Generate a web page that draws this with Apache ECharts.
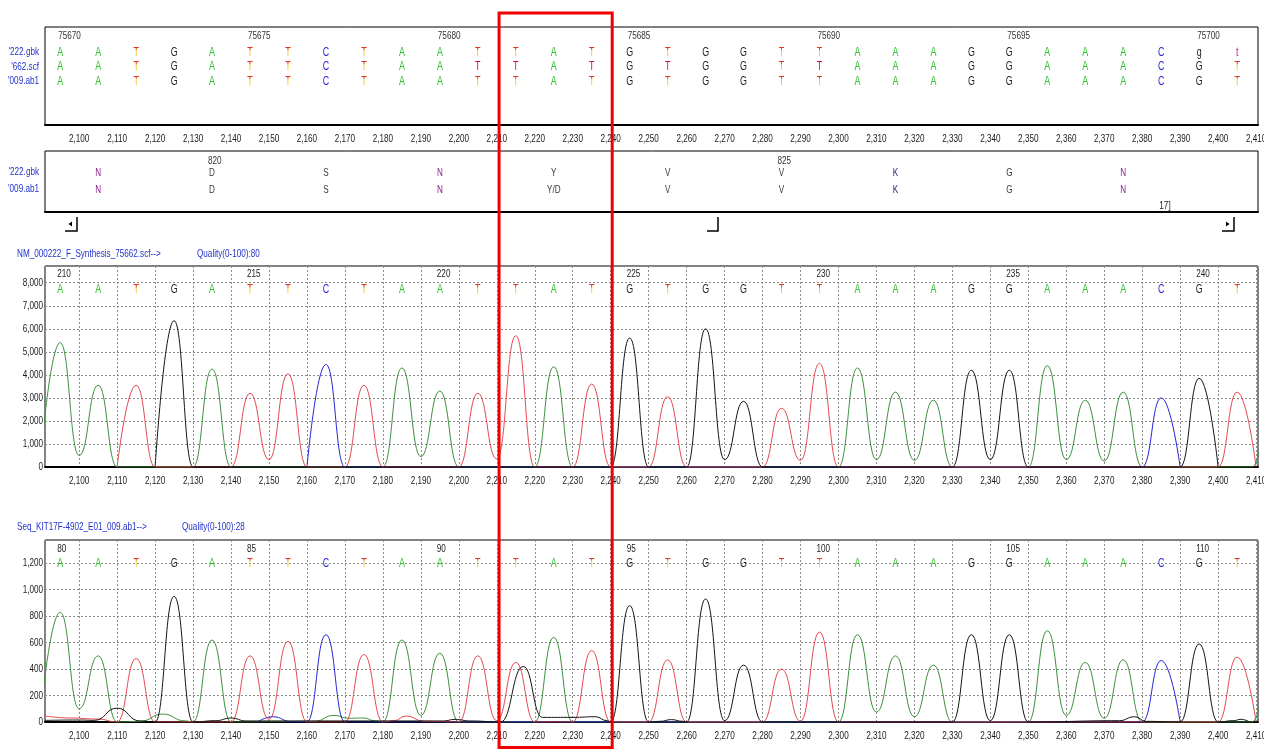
<!DOCTYPE html>
<html>
<head>
<meta charset="utf-8">
<title>chromatogram</title>
<script src="https://cdn.jsdelivr.net/npm/echarts@6/dist/echarts.min.js"></script>
<style>
  html, body { margin: 0; padding: 0; background: #fff; }
  #main { width: 1264px; height: 749px; }
</style>
</head>
<body>
<div id="main"></div>
<script>
// scan positions of the called bases, and the calls
const basePos = [2095, 2105, 2115, 2125, 2135, 2145, 2155, 2165, 2175, 2185, 2195, 2205, 2215, 2225, 2235, 2245,
  2255, 2265, 2275, 2285, 2295, 2305, 2315, 2325, 2335, 2345, 2355, 2365, 2375, 2385, 2395, 2405];
const calls = ['A','A','T','G','A','T','T','C','T','A','A','T','T','A','T','G','T','G','G','T','T','A','A','A','G','G','A','A','A','C','G','T'];
const seqRef = ['A','A','T','G','A','T','T','C','T','A','A','T','T','A','T','G','T','G','G','T','T','A','A','A','G','G','A','A','A','C','g','t'];
const scfMarked = [11, 12, 14, 16, 20];

const refNums = [75670, 75675, 75680, 75685, 75690, 75695, 75700];
const trace1Nums = [210, 215, 220, 225, 230, 235, 240];
const trace2Nums = [80, 85, 90, 95, 100, 105, 110];

// translation
const codonPos = [2105, 2135, 2165, 2195, 2225, 2255, 2285, 2315, 2345, 2375];
const aaRef = ['N','D','S','N','Y','V','V','K','G','N'];
const aaSample = ['N','D','S','N','Y/D','V','V','K','G','N'];
const aaNums = [[1, '820'], [6, '825']];

// tick labels
const xTicks = [2100, 2110, 2120, 2130, 2140, 2150, 2160, 2170, 2180, 2190, 2200, 2210, 2220, 2230, 2240, 2250,
  2260, 2270, 2280, 2290, 2300, 2310, 2320, 2330, 2340, 2350, 2360, 2370, 2380, 2390, 2400, 2410];
const yTicks1 = [0, 1000, 2000, 3000, 4000, 5000, 6000, 7000, 8000];
const yTicks2 = [0, 200, 400, 600, 800, 1000, 1200];

// trace 1 (scf) peak heights and valleys between neighbouring peaks of the same base
const peaks1 = [5400, 3550, 3550, 6350, 4250, 3200, 4050, 4450, 3550, 4300, 3300, 3200, 5700, 4350, 3600, 5600,
  3050, 6000, 2850, 2550, 4500, 4300, 3250, 2900, 4200, 4200, 4400, 2900, 3250, 3000, 3850, 3250];
const dips1 = [500,0,0,0,0,320,0,0,0,450,0,350,0,0,0,0,0,320,0,290,0,320,290,0,320,0,320,260,0,0,0];
const extra1 = {
  A: [[2090, 650], [2409, 0], [2414, 4500]],
  C: [], T: [], G: []
};

// trace 2 (ab1)
const peaks2 = [830, 500, 480, 950, 620, 500, 610, 660, 510, 620, 520, 500, 450, 640, 540, 880,
  470, 930, 430, 400, 680, 660, 500, 430, 660, 660, 690, 450, 470, 465, 590, 490];
const dips2 = [100,0,0,0,0,20,0,0,0,50,0,10,0,0,0,0,0,10,0,5,0,75,40,0,10,0,50,28,0,0,0];
const extra2 = {
  A: [[2090, 100], [2116, 5], [2122, 60], [2128, 8], [2162, 5], [2167, 50], [2171, 28], [2175, 30], [2178, 8],
      [2409, 0], [2414, 700]],
  C: [[2147, 0], [2151, 40], [2156, 2]],
  T: [[2091, 45], [2098, 30], [2105, 22], [2183, 10], [2186, 45], [2191, 5]],
  G: [[2091, 12], [2100, 15], [2104, 12], [2110, 105], [2116, 8], [2136, 10], [2140, 30], [2144, 8],
      [2196, 8], [2199, 20], [2203, 8], [2211, 0], [2217, 420], [2222, 35], [2230, 35], [2236, 40], [2239, 10],
      [2253, 5], [2256, 18], [2259, 5], [2374, 10], [2378, 40], [2381, 5], [2404, 10], [2406, 20], [2408, 5]]
};

const boxRange = [2210.6, 2240.4];

const FAMILY = '"Liberation Sans", Arial, sans-serif';
const SQUEEZE = 0.74;
const traceColor = { A: '#3d8f3d', C: '#2424d8', G: '#141414', T: '#e5484f' };
const X_MIN = 2091, X_MAX = 2410.5;

const comma = v => String(v).replace(/\B(?=(\d{3})+(?!\d))/g, ',');

function letterColor(b, marked) {
  if (b === 'A') return '#2fbf2f';
  if (b === 'C') return '#2b2bd6';
  if (b === 'G' || b === 'g') return '#1e1e1e';
  if (b === 't') return '#c0208a';
  return marked ? '#c8123a' : 'T2';
}

function channelPoints(peaks, dips, ch, extra) {
  const m = new Map();
  calls.forEach((b, i) => {
    if (b !== ch) return;
    const x = basePos[i];
    if (!(i > 0 && calls[i - 1] === ch)) m.set(x - 5, 0);
    m.set(x, peaks[i]);
    m.set(x + 5, (i < calls.length - 1 && calls[i + 1] === ch) ? dips[i] : 0);
  });
  (extra || []).forEach(p => m.set(p[0], p[1]));
  return Array.from(m.entries()).sort((a, b) => a[0] - b[0]);
}

// text drawn at data positions, squeezed horizontally like the original narrow font
function textLayer(xi, yi, items) {
  return {
    type: 'custom', xAxisIndex: xi, yAxisIndex: yi, silent: true, clip: false, z: 5,
    data: items.map(it => [it.x, it.y]),
    renderItem: function (params, api) {
      const it = items[params.dataIndex];
      const p = api.coord([api.value(0), api.value(1)]);
      const base = { text: it.t, font: it.font, align: it.align || 'center', verticalAlign: 'middle' };
      const px = p[0] + (it.dx || 0), py = p[1] + (it.dy || 0);
      if (it.c === 'T2') {
        return {
          type: 'group', x: px, y: py, scaleX: SQUEEZE, children: [
            { type: 'text', style: Object.assign({ fill: '#f1c82a' }, base) },
            { type: 'text', style: Object.assign({ fill: '#e4332b' }, base),
              clipPath: { type: 'rect', shape: { x: -10, y: -10, width: 20, height: 7.3 } } }
          ]
        };
      }
      return { type: 'text', x: px, y: py, scaleX: SQUEEZE, style: Object.assign({ fill: it.c }, base) };
    }
  };
}

const LETTER_FONT = '12px ' + FAMILY;
const SMALL_FONT = '11px ' + FAMILY;

// top sequence panel
const seqItems = [];
basePos.forEach((x, i) => {
  seqItems.push({ x, y: 1, t: seqRef[i], c: letterColor(seqRef[i], false), font: LETTER_FONT });
  seqItems.push({ x, y: 2, t: calls[i], c: letterColor(calls[i], scfMarked.indexOf(i) >= 0), font: LETTER_FONT });
  seqItems.push({ x, y: 3, t: calls[i], c: letterColor(calls[i], false), font: LETTER_FONT });
});
refNums.forEach((n, k) => seqItems.push({ x: basePos[k * 5], y: -0.17, t: String(n), c: '#333', font: SMALL_FONT, align: 'left', dx: -2 }));

// translation panel
const aaColor = a => (a === 'N' ? '#8a1f8f' : (a === 'K' ? '#1f2a80' : '#3a3a3a'));
const aaItems = [];
codonPos.forEach((x, i) => {
  aaItems.push({ x, y: 22, t: aaRef[i], c: aaColor(aaRef[i]), font: SMALL_FONT });
  aaItems.push({ x, y: 39, t: aaSample[i], c: aaColor(aaSample[i]), font: SMALL_FONT });
});
aaNums.forEach(a => aaItems.push({ x: codonPos[a[0]], y: 10, t: a[1], c: '#333', font: SMALL_FONT, align: 'left', dx: -4 }));
aaItems.push({ x: 2386, y: 55, t: '17]', c: '#222', font: SMALL_FONT });

// chromatogram call rows
function callItems(yLetter, yNum, nums) {
  const out = basePos.map((x, i) => ({ x, y: yLetter, t: calls[i], c: letterColor(calls[i], false), font: LETTER_FONT }));
  nums.forEach((n, k) => out.push({ x: basePos[k * 5], y: yNum, t: String(n), c: '#222', font: SMALL_FONT, align: 'left', dx: -3 }));
  return out;
}

function xLabelItems(yBottom) {
  return xTicks.map(v => ({ x: v, y: yBottom, dy: 14, t: comma(v), c: '#1a1a1a', font: SMALL_FONT }));
}
function yLabelItems(ticks) {
  return ticks.map(v => ({ x: X_MIN, y: v, dx: -2, t: comma(v), c: '#1a1a1a', font: SMALL_FONT, align: 'right' }));
}

function xAxisFor(gridIndex, split) {
  return {
    type: 'value', gridIndex, min: X_MIN, max: X_MAX, minInterval: 10, maxInterval: 10, splitNumber: 32,
    axisLine: { show: true, onZero: false, lineStyle: { color: '#000', width: 2 } },
    axisTick: { show: false },
    axisLabel: { show: false },
    splitLine: { show: split, lineStyle: { color: '#8c8c8c', type: [2, 2], width: 1 } }
  };
}

function yAxisTrace(gridIndex, max, step) {
  return {
    type: 'value', gridIndex, min: 0, max, interval: step,
    axisLine: { show: false }, axisTick: { show: false }, axisLabel: { show: false },
    splitLine: { show: true, lineStyle: { color: '#8c8c8c', type: [2, 2], width: 1 } }
  };
}

function traceSeries(gi, peaks, dips, extra) {
  return ['A', 'C', 'T', 'G'].map(ch => ({
    type: 'line', xAxisIndex: gi, yAxisIndex: gi, silent: true,
    data: channelPoints(peaks, dips, ch, extra[ch]),
    smooth: 0.5, smoothMonotone: 'x', showSymbol: false, symbol: 'none',
    lineStyle: { color: traceColor[ch], width: 1 }, z: 3
  }));
}

const frame = { show: true, borderColor: '#000', borderWidth: 1, backgroundColor: 'transparent',
  containLabel: false, outerBoundsMode: 'none' };

function labelText(x, y, text, color, align) {
  return { type: 'text', x, y, scaleX: SQUEEZE, silent: true,
    style: { text, fill: color, font: '11px ' + FAMILY, align: align || 'left', verticalAlign: 'middle',
      textAlign: align || 'left', textVerticalAlign: 'middle' } };
}

function cornerMark(x0, x1, y0, y1) {
  return { type: 'polyline', silent: true, shape: { points: [[x0, y1], [x1, y1], [x1, y0]] },
    style: { stroke: '#000', lineWidth: 1.5, fill: null } };
}

function buildGraphic(bx0, bx1) {
  const blue = '#2233cc';
  return [
    labelText(39, 52, "'222.gbk", blue, 'right'),
    labelText(39, 67, "'662.scf", blue, 'right'),
    labelText(39, 81, "'009.ab1", blue, 'right'),
    labelText(39, 172, "'222.gbk", blue, 'right'),
    labelText(39, 189, "'009.ab1", blue, 'right'),
    labelText(17, 254, 'NM_000222_F_Synthesis_75662.scf-->', blue),
    labelText(197, 254, 'Quality(0-100):80', blue),
    labelText(17, 527, 'Seq_KIT17F-4902_E01_009.ab1-->', blue),
    labelText(182, 527, 'Quality(0-100):28', blue),
    cornerMark(65, 77, 217, 231),
    { type: 'polygon', silent: true, shape: { points: [[68.5, 224], [72, 221.5], [72, 226.5]] }, style: { fill: '#000' } },
    cornerMark(707, 718, 217, 231),
    cornerMark(1222, 1234, 217, 231),
    { type: 'polygon', silent: true, shape: { points: [[1229.5, 224], [1226, 221.5], [1226, 226.5]] }, style: { fill: '#000' } },
    { type: 'rect', silent: true, z: 100, shape: { x: bx0, y: 13, width: bx1 - bx0, height: 734.5 },
      style: { fill: null, stroke: '#f00000', lineWidth: 3 } }
  ];
}

const option = {
  animation: false,
  backgroundColor: '#fff',
  grid: [
    Object.assign({ left: 45, right: 6, top: 27, height: 98 }, frame),
    Object.assign({ left: 45, right: 6, top: 151, height: 61 }, frame),
    Object.assign({ left: 45, right: 6, top: 266, height: 201 }, frame),
    Object.assign({ left: 45, right: 6, top: 540, height: 182 }, frame)
  ],
  xAxis: [xAxisFor(0, false), xAxisFor(1, false), xAxisFor(2, true), xAxisFor(3, true)],
  yAxis: [
    { type: 'value', gridIndex: 0, min: -0.8, max: 6.05, inverse: true, show: false },
    { type: 'value', gridIndex: 1, min: 0, max: 61, inverse: true, show: false },
    yAxisTrace(2, 8726, 1000),
    yAxisTrace(3, 1376, 200)
  ],
  series: [
    textLayer(0, 0, seqItems.concat(xLabelItems(6.05))),
    textLayer(1, 1, aaItems)
  ]
    .concat(traceSeries(2, peaks1, dips1, extra1))
    .concat([textLayer(2, 2, callItems(7680, 8380, trace1Nums).concat(xLabelItems(0), yLabelItems(yTicks1)))])
    .concat(traceSeries(3, peaks2, dips2, extra2))
    .concat([textLayer(3, 3, callItems(1200, 1308, trace2Nums).concat(xLabelItems(0), yLabelItems(yTicks2)))])
};

const chart = echarts.init(document.getElementById('main'));
chart.setOption(option);
const bx0 = chart.convertToPixel({ xAxisIndex: 0 }, boxRange[0]);
const bx1 = chart.convertToPixel({ xAxisIndex: 0 }, boxRange[1]);
chart.setOption({ graphic: buildGraphic(bx0, bx1) });
</script>
</body>
</html>
